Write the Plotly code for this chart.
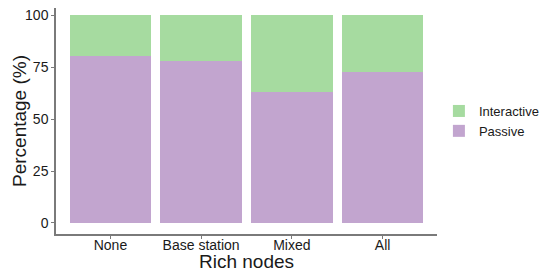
import plotly.graph_objects as go

categories = ['None', 'Base station', 'Mixed', 'All']
passive = [80.5, 77.9, 63.2, 72.8]
interactive = [19.5, 22.1, 36.8, 27.2]

fig = go.Figure()
fig.add_trace(go.Bar(x=categories, y=passive, name='Passive', marker=dict(color='#c2a5cf', line_width=0), width=0.9))
fig.add_trace(go.Bar(x=categories, y=interactive, name='Interactive', marker=dict(color='#a6dba0', line_width=0), width=0.9))

# page body adds an 8px margin, so the figure is a bit smaller and shifted
fig.update_layout(barmode='stack', width=542, height=267, margin=dict(l=48, r=113, t=0, b=41, autoexpand=False),
                  paper_bgcolor='white', plot_bgcolor='white',
                  font=dict(family='Liberation Sans, Arial', color='#1a1a1a', size=13))
fig.update_layout(legend=dict(traceorder='reversed', x=1.005, y=0.5, yanchor='middle', xanchor='left',
                              font=dict(size=13), itemwidth=30, tracegroupgap=0))
fig.update_xaxes(range=[-0.6, 3.6], automargin=False, showline=True, linewidth=1.5, linecolor='#7a7a7a', ticks='outside', ticklen=3,
                 tickcolor='#7a7a7a', tickfont=dict(size=14), ticklabelstandoff=-6)
fig.update_yaxes(range=[-5.3, 103.4], automargin=False, tickvals=[0, 25, 50, 75, 100], showline=True, linewidth=1.5, linecolor='#7a7a7a',
                 ticks='outside', ticklen=3, tickcolor='#7a7a7a', showgrid=False, zeroline=False,
                 tickfont=dict(size=14), ticklabeloverflow='allow')
fig.add_annotation(text='Rich nodes', xref='paper', yref='paper', x=0.5, y=0, yanchor='middle', yshift=-27,
                   showarrow=False, font=dict(size=19))
fig.add_annotation(text='Percentage (%)', xref='paper', yref='paper', x=0, y=0.5, xanchor='center', xshift=-37,
                   textangle=-90, showarrow=False, font=dict(size=19))
fig.write_html("out.html")
